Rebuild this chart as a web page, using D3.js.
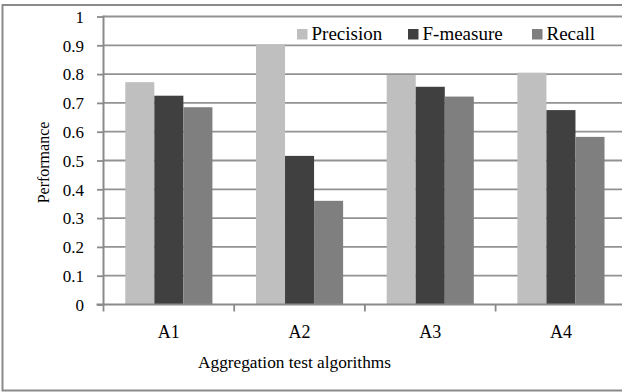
<!DOCTYPE html>
<html>
<head>
<meta charset="utf-8">
<script src="https://cdn.jsdelivr.net/npm/d3@7"></script>
<style>
    body { margin: 0; background: #fff; }
    svg { display: block; }
    svg text { font-family: "Liberation Serif", "Times New Roman", serif; fill: #000; }
</style>
</head>
<body>
<perf-chart></perf-chart>
<script>
// Chart data
var categories = ["A1", "A2", "A3", "A4"];
var seriesNames = ["Precision", "F-measure", "Recall"];
var precision = [0.772, 0.903, 0.797, 0.805];
var fMeasure = [0.725, 0.516, 0.756, 0.675];
var recall = [0.685, 0.360, 0.722, 0.582];
var yTicks = [0, 0.1, 0.2, 0.3, 0.4, 0.5, 0.6, 0.7, 0.8, 0.9, 1];
var yTickLabels = ["0", "0.1", "0.2", "0.3", "0.4", "0.5", "0.6", "0.7", "0.8", "0.9", "1"];
var xTitle = "Aggregation test algorithms";
var yTitle = "Performance";

var seriesColors = ["#bfbfbf", "#404040", "#7f7f7f"];

/**
 * @name PerfChart
 * @description
 * Grouped bar chart of the aggregation test algorithms
 */
class PerfChart extends HTMLElement {

    constructor() {
        super();
        this.chartProps = {};
    }

    /**
     * @name connectedCallback
     * @description
     * Call back for when the component is attached to the DOM
     */
    connectedCallback() {
        this.innerHTML = "<svg></svg>";

        // Plot area, the right side of the chart is cut off by the window
        this.width = 622;
        this.height = 392;
        this.plot = { left: 103.5, right: 626.3, top: 16.5, bottom: 304.5 };

        this.marshalledData = seriesNames.map(function(name, i) {
            return { name: name, color: seriesColors[i], values: [precision, fMeasure, recall][i] };
        });

        this.svgSetup()
            .axisSetup()
            .barsSetup()
            .legendSetup();
    }

    /**
     * @name svgSetup
     * @description
     * Sets up the svg element and the outer frame
     */
    svgSetup () {
        this.svg = d3.select(this).select('svg')
        .attr("width", this.width)
        .attr("height", this.height);

        this.svg.append("rect")
        .attr("width", this.width)
        .attr("height", this.height)
        .attr("fill", "#fff");

        // Outer frame (its right edge is outside the picture)
        this.svg.append("rect")
        .attr("x", 2.5)
        .attr("y", 5)
        .attr("width", 640)
        .attr("height", 385.5)
        .attr("fill", "none")
        .attr("stroke", "#8a8a8a")
        .attr("stroke-width", 2);

        return this;
    }

    /**
     * @name axisSetup
     * @description
     * Scales, gridlines, y axis
     */
    axisSetup () {
        var p = this.plot;
        this.chartProps.x = d3.scaleBand().domain(categories).range([p.left, p.right]);
        this.chartProps.y = d3.scaleLinear().domain([0, 1]).range([p.bottom, p.top]);

        // bars take 3 of 4.5 parts of a category (gap width 150%)
        var bw = this.chartProps.x.bandwidth();
        var gap = bw / 4.5 * 1.5;
        this.chartProps.x1 = d3.scaleBand().domain(seriesNames).range([gap / 2, bw - gap / 2]);

        var y = this.chartProps.y;

        // Gridlines
        this.svg.append("g")
        .attr("class", "grid")
        .selectAll("line")
        .data(yTicks.slice(1))
        .join("line")
        .attr("x1", p.left)
        .attr("x2", p.right)
        .attr("y1", function(d) { return y(d); })
        .attr("y2", function(d) { return y(d); })
        .attr("stroke", "#929292")
        .attr("stroke-width", 1.8);

        var yAxis = d3.axisLeft(y).tickValues(yTicks).tickSize(6.5).tickPadding(13)
        .tickFormat(function(d, i) { return yTickLabels[i]; });

        var yg = this.svg.append("g")
        .attr("class", "y axis")
        .attr("transform", "translate(" + p.left + ",0)")
        .call(yAxis)
        .attr("font-family", "Liberation Serif")
        .attr("font-size", 17);
        yg.select(".domain").remove();
        yg.selectAll("line").attr("stroke", "#8a8a8a").attr("stroke-width", 1.8);
        yg.selectAll("text").attr("dy", "0.34em");

        yg.append("line")
        .attr("y1", p.top - 1)
        .attr("y2", p.bottom + 1)
        .attr("stroke", "#8a8a8a")
        .attr("stroke-width", 2);

        return this;
    }

    /**
     * @name barsSetup
     * @description
     * Draws one group of bars per category, then the x axis over them
     */
    barsSetup () {
        var x = this.chartProps.x, x1 = this.chartProps.x1, y = this.chartProps.y, p = this.plot;

        this.svg.append("g")
        .attr("class", "bars")
        .selectAll("g")
        .data(this.marshalledData)
        .join("g")
        .attr("fill", function(d) { return d.color; })
        .selectAll("rect")
        .data(function(d) {
            return d.values.map(function(v, i) { return { cat: categories[i], name: d.name, value: v }; });
        })
        .join("rect")
        .attr("x", function(d) { return x(d.cat) + x1(d.name); })
        .attr("width", x1.bandwidth())
        .attr("y", function(d) { return y(d.value); })
        .attr("height", function(d) { return y(0) - y(d.value); });

        // X axis, ticks between categories
        var xg = this.svg.append("g")
        .attr("class", "x axis")
        .attr("transform", "translate(0," + p.bottom + ")");

        xg.append("line")
        .attr("x1", p.left - 7)
        .attr("x2", p.right)
        .attr("stroke", "#8a8a8a")
        .attr("stroke-width", 2);

        xg.selectAll(".tick")
        .data(categories)
        .join("line")
        .attr("class", "tick")
        .attr("x1", function(d) { return x(d); })
        .attr("x2", function(d) { return x(d); })
        .attr("y1", 0)
        .attr("y2", 7)
        .attr("stroke", "#8a8a8a")
        .attr("stroke-width", 1.8);

        xg.selectAll(".label")
        .data(categories)
        .join("text")
        .attr("class", "label")
        .attr("x", function(d) { return x(d) + x.bandwidth() / 2; })
        .attr("y", 33.5)
        .attr("text-anchor", "middle")
        .style("font-size", "18px")
        .text(function(d) { return d; });

        // Axis titles
        this.svg.append("text")
        .attr("x", 294.5)
        .attr("y", 368)
        .attr("text-anchor", "middle")
        .style("font-size", "17.3px")
        .text(xTitle);

        this.svg.append("text")
        .attr("transform", "translate(49,162.5) rotate(-90)")
        .attr("text-anchor", "middle")
        .style("font-size", "16px")
        .text(yTitle);

        return this;
    }

    /**
     * @name legendSetup
     * @description
     * Legend along the top of the plot
     */
    legendSetup () {
        var entryX = [297, 408, 532];

        var items = this.svg.append("g")
        .attr("class", "legend")
        .selectAll("g")
        .data(this.marshalledData)
        .join("g")
        .attr("transform", function(d, i) { return "translate(" + entryX[i] + ",29)"; });

        items.append("rect")
        .attr("width", 10.5)
        .attr("height", 10.5)
        .attr("fill", function(d) { return d.color; });

        items.append("text")
        .attr("x", 14.5)
        .attr("y", 10.5)
        .style("font-size", "19px")
        .text(function(d) { return d.name; });

        return this;
    }
}

customElements.define('perf-chart', PerfChart);
</script>
</body>
</html>
